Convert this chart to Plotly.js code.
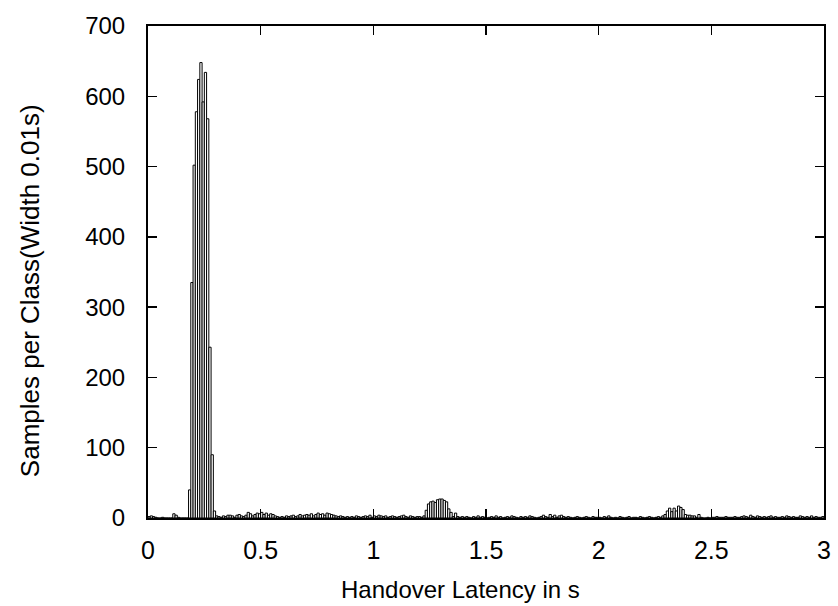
<!DOCTYPE html>
<html>
<head>
<meta charset="utf-8">
<script src="https://cdn.plot.ly/plotly-3.0.1.min.js"></script>
<style>html,body{margin:0;padding:0;background:#fff;}#chart{width:838px;height:606px;}</style>
</head>
<body>
<div id="chart"></div>
<script>
// Histogram: samples per 0.01 s class of handover latency
const binStart = 0.0;
const binWidth = 0.01;
const counts = [
  // 0.00 - 0.09
  2, 3, 2, 1, 0, 0, 1, 0, 0, 0,
  // 0.10 - 0.19
  0, 6, 4, 1, 0, 0, 0, 0, 40, 335,
  // 0.20 - 0.29
  502, 578, 624, 648, 592, 634, 568, 243, 90, 10,
  // 0.30 - 0.39
  3, 2, 1, 3, 2, 4, 4, 3, 1, 4,
  // 0.40 - 0.49
  5, 3, 2, 4, 8, 6, 3, 5, 7, 6,
  // 0.50 - 0.59
  8, 5, 7, 4, 6, 5, 3, 2, 1, 2,
  // 0.60 - 0.69
  1, 3, 2, 3, 4, 2, 3, 5, 3, 4,
  // 0.70 - 0.79
  5, 4, 6, 3, 5, 7, 5, 6, 4, 7,
  // 0.80 - 0.89
  6, 5, 4, 3, 2, 3, 2, 1, 2, 1,
  // 0.90 - 0.99
  2, 1, 3, 2, 1, 2, 3, 2, 4, 1,
  // 1.00 - 1.09
  3, 2, 4, 3, 2, 3, 1, 2, 3, 2,
  // 1.10 - 1.19
  1, 2, 3, 4, 2, 1, 3, 2, 1, 2,
  // 1.20 - 1.29
  2, 1, 3, 11, 20, 23, 24, 22, 26, 27,
  // 1.30 - 1.39
  27, 25, 23, 13, 8, 2, 7, 2, 1, 2,
  // 1.40 - 1.49
  1, 2, 1, 0, 2, 1, 3, 1, 2, 1,
  // 1.50 - 1.59
  0, 1, 2, 1, 3, 1, 2, 0, 1, 2,
  // 1.60 - 1.69
  1, 3, 2, 1, 0, 2, 1, 2, 1, 3,
  // 1.70 - 1.79
  2, 1, 0, 1, 2, 4, 2, 1, 5, 2,
  // 1.80 - 1.89
  4, 1, 3, 4, 2, 1, 2, 1, 0, 1,
  // 1.90 - 1.99
  2, 1, 0, 1, 2, 1, 0, 2, 1, 1,
  // 2.00 - 2.09
  1, 0, 2, 1, 3, 1, 0, 1, 0, 2,
  // 2.10 - 2.19
  1, 0, 1, 2, 0, 1, 1, 0, 2, 1,
  // 2.20 - 2.29
  0, 1, 2, 1, 0, 1, 2, 1, 3, 5,
  // 2.30 - 2.39
  10, 14, 9, 14, 10, 17, 15, 12, 5, 4,
  // 2.40 - 2.49
  4, 3, 3, 1, 5, 1, 0, 0, 1, 0,
  // 2.50 - 2.59
  1, 1, 2, 1, 1, 1, 2, 1, 1, 1,
  // 2.60 - 2.69
  2, 1, 1, 2, 3, 2, 1, 4, 2, 1,
  // 2.70 - 2.79
  3, 2, 1, 2, 1, 2, 3, 1, 2, 1,
  // 2.80 - 2.89
  1, 2, 1, 3, 2, 1, 2, 1, 1, 3,
  // 2.90 - 2.99
  2, 1, 2, 1, 3, 1, 2, 1, 1, 2
];
const xTickVals = [0, 0.5, 1, 1.5, 2, 2.5, 3];
const xTickText = ['0', '0.5', '1', '1.5', '2', '2.5', '3'];
const yTickVals = [0, 100, 200, 300, 400, 500, 600, 700];
const xTitle = 'Handover Latency in s';
const yTitle = 'Samples per Class(Width 0.01s)';

const centers = counts.map((_, i) => binStart + (i + 0.5) * binWidth);

const trace = {
  type: 'bar',
  x: centers,
  y: counts,
  width: binWidth,
  marker: { color: '#ffffff', line: { color: '#000000', width: 1 } },
  hoverinfo: 'x+y'
};

const fam = 'Liberation Sans, Arial, sans-serif';
const font = { family: fam, size: 24, color: '#000' };

const layout = {
  width: 838, height: 606,
  margin: { l: 148, r: 14, t: 26, b: 88 },
  paper_bgcolor: '#fff', plot_bgcolor: '#fff',
  showlegend: false,
  bargap: 0,
  font: font,
  xaxis: {
    range: [0, 3],
    tickvals: xTickVals, ticktext: xTickText,
    ticks: 'inside', ticklen: 9, tickwidth: 1.5, tickcolor: '#000',
    showline: true, linecolor: '#000', linewidth: 2, mirror: 'ticks',
    showgrid: false, zeroline: false,
    tickfont: { family: fam, size: 25, color: '#000' }, ticklabelstandoff: 9,
    automargin: false
  },
  yaxis: {
    range: [0, 700],
    tickvals: yTickVals,
    ticks: 'inside', ticklen: 9, tickwidth: 1.5, tickcolor: '#000',
    showline: true, linecolor: '#000', linewidth: 2, mirror: 'ticks',
    showgrid: false, zeroline: false,
    tickfont: font, ticklabelstandoff: 16,
    automargin: false
  },
  annotations: [
    { text: xTitle, xref: 'paper', yref: 'paper', x: 0.463, y: -0.146,
      xanchor: 'center', yanchor: 'middle', showarrow: false,
      font: { family: fam, size: 24, color: '#000' } },
    { text: yTitle, xref: 'paper', yref: 'paper', x: -0.1746, y: 0.463,
      xanchor: 'center', yanchor: 'middle', showarrow: false, textangle: -90,
      font: { family: fam, size: 26, color: '#000' } }
  ]
};

Plotly.newPlot('chart', [trace], layout, { displayModeBar: false, staticPlot: true });
</script>
</body>
</html>
